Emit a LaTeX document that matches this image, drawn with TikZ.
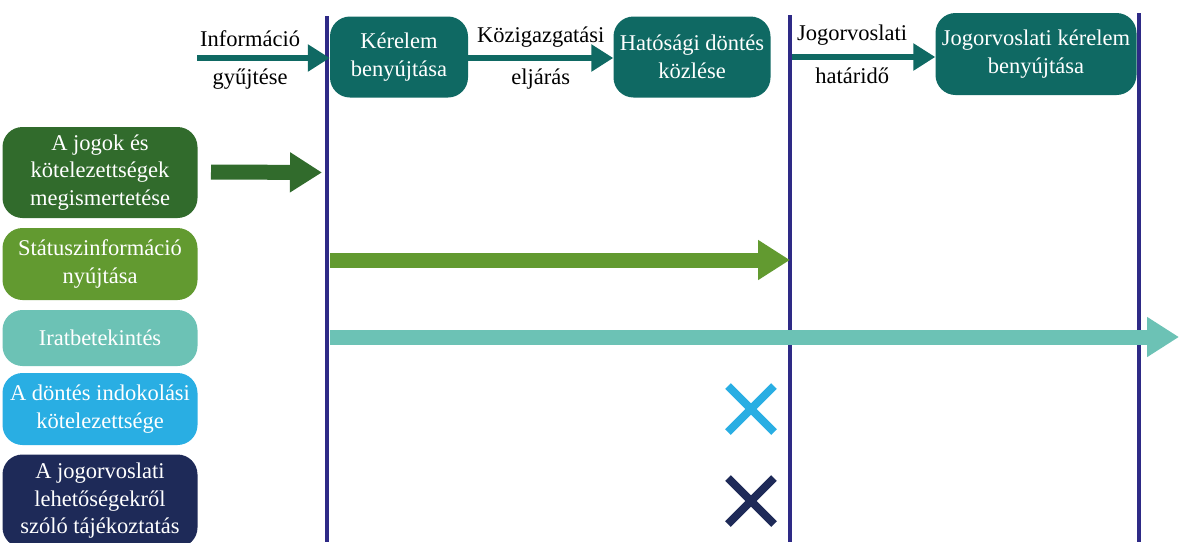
\documentclass[tikz,border=0pt]{standalone}
\usepackage{fontspec}
\setmainfont{LiberationSerif}[Extension=.ttf, UprightFont=*-Regular, BoldFont=*-Bold, ItalicFont=*-Italic, BoldItalicFont=*-BoldItalic]
\usetikzlibrary{positioning, arrows.meta, calc}

\definecolor{topteal}{HTML}{0F6963}
\definecolor{jogzold}{HTML}{316B2C}
\definecolor{statzold}{HTML}{629A30}
\definecolor{iratteal}{HTML}{6CC2B5}
\definecolor{indokkek}{HTML}{29AEE3}
\definecolor{tajnavy}{HTML}{1E2A58}
\definecolor{vonal}{HTML}{2E2A86}

\begin{document}
\begin{tikzpicture}[x=1pt, y=-1pt,
  txt/.style={font=\rmfamily\fontsize{22.5}{27.5}\selectfont, align=center, inner sep=0pt},
  step box/.style={txt, rounded corners=20pt, fill=topteal, text=white, minimum height=81pt},
  jog box/.style={txt, rounded corners=20pt, text=white, minimum width=195pt},
  flow/.style={topteal, line width=6pt, -{Triangle[length=22pt, width=26pt]}},
  block/.style={line width=15pt, -{Triangle[length=32pt, width=38pt]}},
  phase/.style={vonal, line width=4pt},
  nem/.style={line width=8pt}]

  \useasboundingbox (0,0) rectangle (1179,542);

  % top row
  \node[step box, minimum width=138pt] (kerelem) at (399,57) {Kérelem\\benyújtása};
  \node[step box, minimum width=157pt] (hatosagi) at (692,57) {Hatósági döntés\\közlése};
  \node[step box, minimum width=201pt, minimum height=82pt] (jogkerelem) at (1036,54) {Jogorvoslati kérelem\\benyújtása};

  % phase lines
  \coordinate (v1t) at (327,16);   \coordinate (v1b) at (327,542);
  \coordinate (v2t) at (790,15);   \coordinate (v2b) at (790,542);
  \coordinate (v3t) at (1139,13);  \coordinate (v3b) at (1139,542);
  \draw[phase] (v1t) -- (v1b);
  \draw[phase] (v2t) -- (v2b);
  \draw[phase] (v3t) -- (v3b);

  \coordinate (infostart) at (197,58);
  \coordinate (hatido) at (792,57);
  \draw[flow] (infostart) -- (kerelem.west |- infostart)
    node[txt, pos=0.4, above=8pt, text=black] (info1) {Információ}
    node[txt, pos=0.4, below=8pt, text=black] (info2) {gyűjtése};
  \draw[flow] (kerelem.east |- infostart) -- (hatosagi.west |- infostart)
    node[txt, midway, above=8pt, text=black] (kozig1) {Közigazgatási}
    node[txt, midway, below=8pt, text=black] (kozig2) {eljárás};
  \draw[flow] (hatido) -- (jogkerelem.west |- hatido)
    node[txt, pos=0.42, above=9pt, text=black] (hat1) {Jogorvoslati}
    node[txt, pos=0.42, below=8pt, text=black] (hat2) {határidő};

  % left column
  \node[jog box, fill=jogzold, minimum height=91pt] (jogok) at (100,172.5) {A jogok és\\kötelezettségek\\megismertetése};
  \node[jog box, fill=statzold, minimum height=72pt] (status) at (100,264) {Státuszinformáció\\nyújtása};
  \node[jog box, fill=iratteal, minimum height=56pt] (irat) at (100,338) {Iratbetekintés};
  \node[jog box, fill=indokkek, minimum height=72pt] (indok) at (100,409) {A döntés indokolási\\kötelezettsége};
  \node[jog box, fill=tajnavy, minimum height=93pt] (tajek) at (100,501) {A jogorvoslati\\lehetőségekről\\szóló tájékoztatás};

  \coordinate (statusend) at (790,260);
  \coordinate (iratend) at (1179,337);
  \draw[block, jogzold, shorten >=5pt] (211,172) -- (v1t |- jogok);
  \draw[block, statzold] (330,260) -- (statusend);
  \draw[block, iratteal] (330,337) -- (iratend);

  % no obligation in the later phases
  \coordinate (x1) at (751,409);
  \coordinate (x2) at (751,501);
  \draw[nem, indokkek] ($(x1)+(-23,-23)$) -- ($(x1)+(23,23)$) ($(x1)+(23,-23)$) -- ($(x1)+(-23,23)$);
  \draw[nem, tajnavy] ($(x2)+(-23,-23)$) -- ($(x2)+(23,23)$) ($(x2)+(23,-23)$) -- ($(x2)+(-23,23)$);
\end{tikzpicture}
\end{document}
